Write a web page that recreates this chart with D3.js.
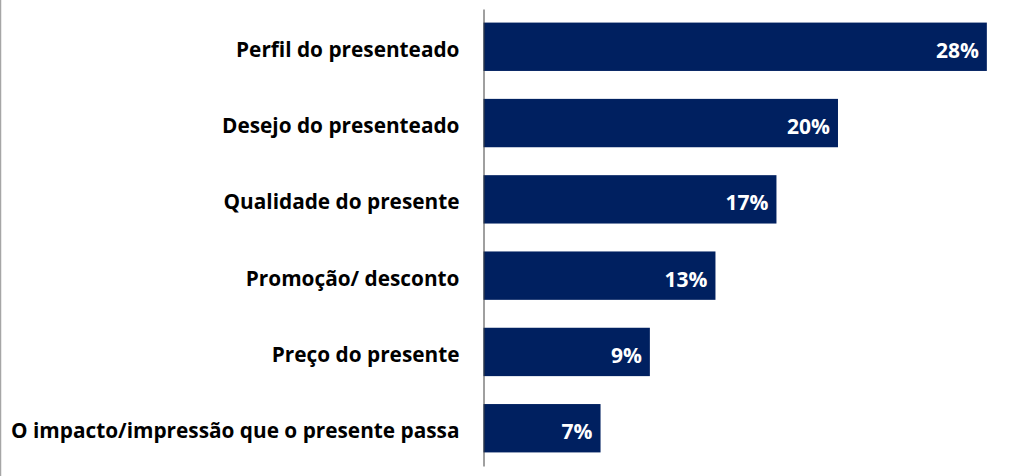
<!DOCTYPE html>
<html>
<head>
<meta charset="utf-8">
<script src="https://cdn.jsdelivr.net/npm/d3@7"></script>
<style>
  html, body { margin: 0; padding: 0; background: #fff; }
  svg { display: block; }
</style>
</head>
<body>
<svg id="chart" width="1024" height="476"></svg>
<script>
const categories = [
  "Perfil do presenteado",
  "Desejo do presenteado",
  "Qualidade do presente",
  "Promoção/ desconto",
  "Preço do presente",
  "O impacto/impressão que o presente passa"
];
const values = [0.2847, 0.2005, 0.1657, 0.1312, 0.0941, 0.0662];
const valueLabels = ["28%", "20%", "17%", "13%", "9%", "7%"];

const W = 1024, H = 476;
const FONT = "'Open Sans', Lato, sans-serif";
const svg = d3.select("#chart");

// left border line
svg.append("line")
  .attr("x1", 0.5).attr("x2", 0.5).attr("y1", 0).attr("y2", H)
  .attr("stroke", "#a6a6a6").attr("stroke-width", 1.5);

const x0 = 483.5;
const x = d3.scaleLinear().domain([0, 0.30]).range([x0, x0 + 0.30 * 1768]);
const y = d3.scaleBand().domain(categories).range([9, 466])
  .paddingInner(0.366).paddingOuter(0.178);

const data = categories.map((c, i) => ({ c, v: values[i], l: valueLabels[i] }));

svg.selectAll("rect.bar").data(data).join("rect")
  .attr("class", "bar")
  .attr("x", x(0))
  .attr("y", d => y(d.c))
  .attr("width", d => x(d.v) - x(0))
  .attr("height", y.bandwidth())
  .attr("fill", "#002060");

svg.selectAll("text.val").data(data).join("text")
  .attr("class", "val")
  .attr("x", d => x(d.v) - 8)
  .attr("y", d => y(d.c) + y.bandwidth() / 2 + 11)
  .attr("text-anchor", "end")
  .attr("fill", "#ffffff")
  .attr("font-family", FONT)
  .attr("font-weight", "bold")
  .attr("font-size", 21)
  .text(d => d.l);

const axis = d3.axisLeft(y).tickSize(0).tickSizeOuter(0).tickPadding(24);
const g = svg.append("g").attr("transform", `translate(${x0},0)`).call(axis);
g.select(".domain").attr("stroke", "#404040").attr("stroke-width", 1);
g.selectAll(".tick text")
  .attr("font-family", FONT)
  .attr("font-weight", "bold")
  .attr("font-size", 20.8)
  .attr("fill", "#000")
  .attr("dy", "0.48em");
</script>
</body>
</html>
